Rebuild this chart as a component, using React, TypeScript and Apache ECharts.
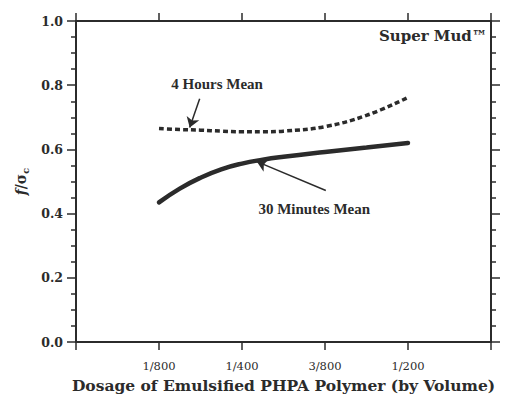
import React, { useEffect, useRef } from "react";
import * as echarts from "echarts";

// x in units of 1/800 volume dosage
const dosage = [1, 1.25, 1.5, 1.75, 2, 2.25, 2.5, 3, 3.5, 4];
const thirtyMinutesMean = [0.435, 0.478, 0.512, 0.538, 0.556, 0.568, 0.577, 0.592, 0.606, 0.62];
const fourHoursMean = [0.665, 0.662, 0.66, 0.657, 0.655, 0.655, 0.657, 0.671, 0.706, 0.762];

const xTickValues = [1, 2, 3, 4];
const xTickLabels = ["1/800", "1/400", "3/800", "1/200"];

const INK = "#2b2b2b";
const SERIF = "'DejaVu Serif', 'Liberation Serif', serif";
const TIMES = "'Liberation Serif', serif";

export default function App() {
  const ref = useRef<HTMLDivElement>(null);
  useEffect(() => {
    if (!ref.current) return;
    const chart = echarts.init(ref.current, null, { renderer: "svg" });
    const axisLine = { show: true, onZero: false, lineStyle: { color: INK, width: 2 } };
    const xLabel = (v: number) => {
      const i = xTickValues.indexOf(v);
      return i >= 0 ? xTickLabels[i] : "";
    };
    const yCommon = {
      type: "value" as const,
      min: 0,
      max: 1,
      interval: 0.2,
      axisLine,
      splitLine: { show: false },
      axisTick: { show: true, length: 9, lineStyle: { color: INK, width: 1.5 } },
      minorTick: { show: true, splitNumber: 4, length: 5, lineStyle: { color: INK, width: 1.5 } },
    };
    const xCommon = {
      type: "value" as const,
      min: 0,
      max: 5,
      interval: 1,
      axisLine,
      splitLine: { show: false },
      axisTick: { show: true, length: 8, lineStyle: { color: INK, width: 1.5 } },
    };
    chart.setOption({
      animation: false,
      backgroundColor: "#ffffff",
      grid: { left: 76, right: 17, top: 21, bottom: 51 },
      xAxis: [
        {
          ...xCommon,
          position: "bottom",
          name: "Dosage of Emulsified PHPA Polymer (by Volume)",
          nameLocation: "middle",
          nameGap: 26,
          nameTextStyle: { fontFamily: SERIF, fontWeight: "bold", fontSize: 15.5, color: INK },
          axisLabel: { formatter: xLabel, margin: 18, fontFamily: SERIF, fontSize: 11.5, color: INK },
        },
        {
          ...xCommon,
          position: "top",
          axisLabel: { show: false },
        },
      ],
      yAxis: [
        {
          ...yCommon,
          position: "left",
          name: "{i|f}{n|/σ}{s|c}",
          nameLocation: "middle",
          nameGap: 40,
          nameRotate: 90,
          nameTextStyle: {
            rich: {
              i: { fontFamily: SERIF, fontStyle: "italic", fontWeight: "bold", fontSize: 14, color: INK },
              n: { fontFamily: SERIF, fontWeight: "bold", fontSize: 14, color: INK },
              s: { fontFamily: SERIF, fontWeight: "bold", fontSize: 10, color: INK, padding: [8, 0, 0, 0] },
            },
          },
          axisLabel: {
            formatter: (v: number) => v.toFixed(1),
            margin: 13,
            fontFamily: SERIF,
            fontWeight: "bold",
            fontSize: 12.5,
            color: INK,
          },
        },
        {
          ...yCommon,
          position: "right",
          axisLabel: { show: false },
        },
      ],
      series: [
        {
          name: "30 Minutes Mean",
          type: "line",
          data: dosage.map((x, i) => [x, thirtyMinutesMean[i]]),
          smooth: 0.5,
          showSymbol: false,
          lineStyle: { color: INK, width: 4.5, cap: "round" },
          markLine: {
            silent: true,
            symbol: ["none", "arrow"],
            symbolSize: 10,
            label: { show: false },
            lineStyle: { color: INK, width: 1.5, type: "solid" },
            data: [[{ coord: [3.01, 0.472] }, { coord: [2.18, 0.562] }]],
          },
        },
        {
          name: "4 Hours Mean",
          type: "line",
          data: dosage.map((x, i) => [x, fourHoursMean[i]]),
          smooth: 0.4,
          showSymbol: false,
          lineStyle: { color: INK, width: 3.5, type: [5, 3] },
          markLine: {
            silent: true,
            symbol: ["none", "arrow"],
            symbolSize: 10,
            label: { show: false },
            lineStyle: { color: INK, width: 1.5, type: "solid" },
            data: [[{ coord: [1.49, 0.758] }, { coord: [1.37, 0.668] }]],
          },
        },
      ],
    });
    const px = (x: number, y: number) =>
      chart.convertToPixel({ xAxisIndex: 0, yAxisIndex: 0 }, [x, y]) as number[];
    const t1 = px(1.7, 0.804);
    const t2 = px(2.87, 0.414);
    const t3 = px(4.95, 0.954);
    chart.setOption({
      graphic: [
        {
          type: "text",
          x: t1[0],
          y: t1[1],
          style: { text: "4 Hours Mean", fontFamily: TIMES, fontWeight: "bold", fontSize: 15, fill: INK, align: "center", verticalAlign: "middle" },
        },
        {
          type: "text",
          x: t2[0],
          y: t2[1],
          style: { text: "30 Minutes Mean", fontFamily: TIMES, fontWeight: "bold", fontSize: 15, fill: INK, align: "center", verticalAlign: "middle" },
        },
        {
          type: "text",
          x: t3[0],
          y: t3[1],
          style: { text: "Super Mud™", fontFamily: SERIF, fontWeight: "bold", fontSize: 15, fill: INK, align: "right", verticalAlign: "middle" },
        },
      ],
    });
    return () => chart.dispose();
  }, []);
  return <div ref={ref} style={{ width: 508, height: 398, position: "fixed", left: 0, top: 0 }} />;
}
